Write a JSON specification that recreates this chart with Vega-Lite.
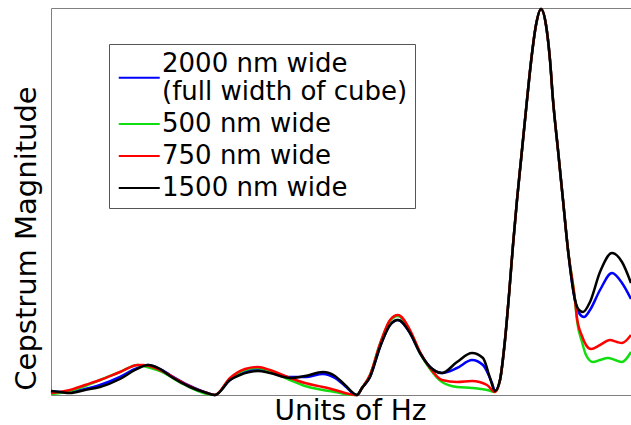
{
  "$schema": "https://vega.github.io/schema/vega-lite/v6.json",
  "width": 580,
  "height": 387,
  "autosize": {"type": "none"},
  "padding": {"left": 51, "top": 8, "right": 0, "bottom": 30},
  "background": "white",
  "config": {
    "font": "DejaVu Sans",
    "view": {"stroke": "#808080", "strokeWidth": 1}
  },
  "data": {
    "values": [
      {"w": "2000 nm wide (full width of cube)", "q": 0, "m": 4},
      {"w": "2000 nm wide (full width of cube)", "q": 9, "m": 3},
      {"w": "2000 nm wide (full width of cube)", "q": 19, "m": 3},
      {"w": "2000 nm wide (full width of cube)", "q": 34, "m": 6},
      {"w": "2000 nm wide (full width of cube)", "q": 49, "m": 10},
      {"w": "2000 nm wide (full width of cube)", "q": 69, "m": 18},
      {"w": "2000 nm wide (full width of cube)", "q": 84, "m": 26},
      {"w": "2000 nm wide (full width of cube)", "q": 97, "m": 30},
      {"w": "2000 nm wide (full width of cube)", "q": 109, "m": 26},
      {"w": "2000 nm wide (full width of cube)", "q": 119, "m": 20},
      {"w": "2000 nm wide (full width of cube)", "q": 139, "m": 9},
      {"w": "2000 nm wide (full width of cube)", "q": 156, "m": 2},
      {"w": "2000 nm wide (full width of cube)", "q": 164, "m": 0},
      {"w": "2000 nm wide (full width of cube)", "q": 179, "m": 15},
      {"w": "2000 nm wide (full width of cube)", "q": 189, "m": 21},
      {"w": "2000 nm wide (full width of cube)", "q": 207, "m": 26},
      {"w": "2000 nm wide (full width of cube)", "q": 219, "m": 24},
      {"w": "2000 nm wide (full width of cube)", "q": 239, "m": 18},
      {"w": "2000 nm wide (full width of cube)", "q": 254, "m": 18},
      {"w": "2000 nm wide (full width of cube)", "q": 272, "m": 21},
      {"w": "2000 nm wide (full width of cube)", "q": 284, "m": 17},
      {"w": "2000 nm wide (full width of cube)", "q": 294, "m": 9},
      {"w": "2000 nm wide (full width of cube)", "q": 306, "m": 0},
      {"w": "2000 nm wide (full width of cube)", "q": 311, "m": 7},
      {"w": "2000 nm wide (full width of cube)", "q": 319, "m": 18},
      {"w": "2000 nm wide (full width of cube)", "q": 329, "m": 48},
      {"w": "2000 nm wide (full width of cube)", "q": 339, "m": 70},
      {"w": "2000 nm wide (full width of cube)", "q": 347, "m": 75},
      {"w": "2000 nm wide (full width of cube)", "q": 359, "m": 62},
      {"w": "2000 nm wide (full width of cube)", "q": 369, "m": 42},
      {"w": "2000 nm wide (full width of cube)", "q": 379, "m": 28},
      {"w": "2000 nm wide (full width of cube)", "q": 391, "m": 22},
      {"w": "2000 nm wide (full width of cube)", "q": 406, "m": 27},
      {"w": "2000 nm wide (full width of cube)", "q": 421, "m": 35},
      {"w": "2000 nm wide (full width of cube)", "q": 432, "m": 30},
      {"w": "2000 nm wide (full width of cube)", "q": 441, "m": 12},
      {"w": "2000 nm wide (full width of cube)", "q": 444, "m": 4},
      {"w": "2000 nm wide (full width of cube)", "q": 449, "m": 15},
      {"w": "2000 nm wide (full width of cube)", "q": 454, "m": 55},
      {"w": "2000 nm wide (full width of cube)", "q": 458, "m": 100},
      {"w": "2000 nm wide (full width of cube)", "q": 462, "m": 150},
      {"w": "2000 nm wide (full width of cube)", "q": 466, "m": 195},
      {"w": "2000 nm wide (full width of cube)", "q": 470, "m": 235},
      {"w": "2000 nm wide (full width of cube)", "q": 476, "m": 295},
      {"w": "2000 nm wide (full width of cube)", "q": 480, "m": 333},
      {"w": "2000 nm wide (full width of cube)", "q": 485, "m": 370},
      {"w": "2000 nm wide (full width of cube)", "q": 490, "m": 386},
      {"w": "2000 nm wide (full width of cube)", "q": 495, "m": 370},
      {"w": "2000 nm wide (full width of cube)", "q": 499, "m": 335},
      {"w": "2000 nm wide (full width of cube)", "q": 502, "m": 295},
      {"w": "2000 nm wide (full width of cube)", "q": 507, "m": 245},
      {"w": "2000 nm wide (full width of cube)", "q": 512, "m": 195},
      {"w": "2000 nm wide (full width of cube)", "q": 517, "m": 145},
      {"w": "2000 nm wide (full width of cube)", "q": 524, "m": 95},
      {"w": "2000 nm wide (full width of cube)", "q": 528, "m": 82},
      {"w": "2000 nm wide (full width of cube)", "q": 533, "m": 78},
      {"w": "2000 nm wide (full width of cube)", "q": 539, "m": 85},
      {"w": "2000 nm wide (full width of cube)", "q": 549, "m": 105},
      {"w": "2000 nm wide (full width of cube)", "q": 561, "m": 122},
      {"w": "2000 nm wide (full width of cube)", "q": 571, "m": 112},
      {"w": "2000 nm wide (full width of cube)", "q": 580, "m": 96},

      {"w": "500 nm wide", "q": 0, "m": 1},
      {"w": "500 nm wide", "q": 9, "m": 2},
      {"w": "500 nm wide", "q": 19, "m": 4},
      {"w": "500 nm wide", "q": 34, "m": 9},
      {"w": "500 nm wide", "q": 49, "m": 15},
      {"w": "500 nm wide", "q": 69, "m": 23},
      {"w": "500 nm wide", "q": 87, "m": 30},
      {"w": "500 nm wide", "q": 92, "m": 29},
      {"w": "500 nm wide", "q": 109, "m": 24},
      {"w": "500 nm wide", "q": 132, "m": 11},
      {"w": "500 nm wide", "q": 156, "m": 1},
      {"w": "500 nm wide", "q": 164, "m": 0},
      {"w": "500 nm wide", "q": 179, "m": 16},
      {"w": "500 nm wide", "q": 194, "m": 25},
      {"w": "500 nm wide", "q": 207, "m": 27},
      {"w": "500 nm wide", "q": 219, "m": 24},
      {"w": "500 nm wide", "q": 239, "m": 15},
      {"w": "500 nm wide", "q": 254, "m": 9},
      {"w": "500 nm wide", "q": 272, "m": 5},
      {"w": "500 nm wide", "q": 284, "m": 3},
      {"w": "500 nm wide", "q": 294, "m": 1},
      {"w": "500 nm wide", "q": 306, "m": 0},
      {"w": "500 nm wide", "q": 311, "m": 7},
      {"w": "500 nm wide", "q": 319, "m": 20},
      {"w": "500 nm wide", "q": 329, "m": 51},
      {"w": "500 nm wide", "q": 339, "m": 74},
      {"w": "500 nm wide", "q": 347, "m": 79},
      {"w": "500 nm wide", "q": 359, "m": 64},
      {"w": "500 nm wide", "q": 369, "m": 42},
      {"w": "500 nm wide", "q": 379, "m": 26},
      {"w": "500 nm wide", "q": 391, "m": 13},
      {"w": "500 nm wide", "q": 406, "m": 8},
      {"w": "500 nm wide", "q": 421, "m": 7},
      {"w": "500 nm wide", "q": 436, "m": 5},
      {"w": "500 nm wide", "q": 444, "m": 3},
      {"w": "500 nm wide", "q": 449, "m": 15},
      {"w": "500 nm wide", "q": 454, "m": 55},
      {"w": "500 nm wide", "q": 458, "m": 100},
      {"w": "500 nm wide", "q": 462, "m": 150},
      {"w": "500 nm wide", "q": 466, "m": 195},
      {"w": "500 nm wide", "q": 470, "m": 235},
      {"w": "500 nm wide", "q": 476, "m": 295},
      {"w": "500 nm wide", "q": 480, "m": 333},
      {"w": "500 nm wide", "q": 485, "m": 370},
      {"w": "500 nm wide", "q": 490, "m": 386},
      {"w": "500 nm wide", "q": 495, "m": 370},
      {"w": "500 nm wide", "q": 499, "m": 335},
      {"w": "500 nm wide", "q": 502, "m": 295},
      {"w": "500 nm wide", "q": 507, "m": 245},
      {"w": "500 nm wide", "q": 512, "m": 195},
      {"w": "500 nm wide", "q": 517, "m": 145},
      {"w": "500 nm wide", "q": 524, "m": 95},
      {"w": "500 nm wide", "q": 526, "m": 75},
      {"w": "500 nm wide", "q": 531, "m": 53},
      {"w": "500 nm wide", "q": 535, "m": 40},
      {"w": "500 nm wide", "q": 542, "m": 33},
      {"w": "500 nm wide", "q": 549, "m": 35},
      {"w": "500 nm wide", "q": 557, "m": 37},
      {"w": "500 nm wide", "q": 564, "m": 35},
      {"w": "500 nm wide", "q": 571, "m": 33},
      {"w": "500 nm wide", "q": 580, "m": 43},

      {"w": "750 nm wide", "q": 0, "m": 2},
      {"w": "750 nm wide", "q": 9, "m": 3},
      {"w": "750 nm wide", "q": 19, "m": 5},
      {"w": "750 nm wide", "q": 34, "m": 10},
      {"w": "750 nm wide", "q": 49, "m": 15},
      {"w": "750 nm wide", "q": 69, "m": 23},
      {"w": "750 nm wide", "q": 87, "m": 30},
      {"w": "750 nm wide", "q": 92, "m": 30},
      {"w": "750 nm wide", "q": 109, "m": 25},
      {"w": "750 nm wide", "q": 132, "m": 12},
      {"w": "750 nm wide", "q": 156, "m": 2},
      {"w": "750 nm wide", "q": 164, "m": 0},
      {"w": "750 nm wide", "q": 179, "m": 17},
      {"w": "750 nm wide", "q": 194, "m": 26},
      {"w": "750 nm wide", "q": 207, "m": 28},
      {"w": "750 nm wide", "q": 219, "m": 25},
      {"w": "750 nm wide", "q": 239, "m": 17},
      {"w": "750 nm wide", "q": 254, "m": 12},
      {"w": "750 nm wide", "q": 272, "m": 8},
      {"w": "750 nm wide", "q": 284, "m": 5},
      {"w": "750 nm wide", "q": 294, "m": 2},
      {"w": "750 nm wide", "q": 306, "m": 0},
      {"w": "750 nm wide", "q": 311, "m": 7},
      {"w": "750 nm wide", "q": 319, "m": 20},
      {"w": "750 nm wide", "q": 329, "m": 51},
      {"w": "750 nm wide", "q": 339, "m": 75},
      {"w": "750 nm wide", "q": 347, "m": 80},
      {"w": "750 nm wide", "q": 359, "m": 65},
      {"w": "750 nm wide", "q": 369, "m": 43},
      {"w": "750 nm wide", "q": 379, "m": 27},
      {"w": "750 nm wide", "q": 391, "m": 15},
      {"w": "750 nm wide", "q": 406, "m": 13},
      {"w": "750 nm wide", "q": 421, "m": 14},
      {"w": "750 nm wide", "q": 436, "m": 10},
      {"w": "750 nm wide", "q": 444, "m": 3},
      {"w": "750 nm wide", "q": 449, "m": 15},
      {"w": "750 nm wide", "q": 454, "m": 55},
      {"w": "750 nm wide", "q": 458, "m": 100},
      {"w": "750 nm wide", "q": 462, "m": 150},
      {"w": "750 nm wide", "q": 466, "m": 195},
      {"w": "750 nm wide", "q": 470, "m": 235},
      {"w": "750 nm wide", "q": 476, "m": 295},
      {"w": "750 nm wide", "q": 480, "m": 333},
      {"w": "750 nm wide", "q": 485, "m": 370},
      {"w": "750 nm wide", "q": 490, "m": 386},
      {"w": "750 nm wide", "q": 495, "m": 370},
      {"w": "750 nm wide", "q": 499, "m": 335},
      {"w": "750 nm wide", "q": 502, "m": 295},
      {"w": "750 nm wide", "q": 507, "m": 245},
      {"w": "750 nm wide", "q": 512, "m": 195},
      {"w": "750 nm wide", "q": 517, "m": 145},
      {"w": "750 nm wide", "q": 524, "m": 95},
      {"w": "750 nm wide", "q": 526, "m": 77},
      {"w": "750 nm wide", "q": 531, "m": 59},
      {"w": "750 nm wide", "q": 535, "m": 50},
      {"w": "750 nm wide", "q": 540, "m": 46},
      {"w": "750 nm wide", "q": 549, "m": 50},
      {"w": "750 nm wide", "q": 559, "m": 55},
      {"w": "750 nm wide", "q": 566, "m": 53},
      {"w": "750 nm wide", "q": 571, "m": 52},
      {"w": "750 nm wide", "q": 580, "m": 60},

      {"w": "1500 nm wide", "q": 0, "m": 4},
      {"w": "1500 nm wide", "q": 9, "m": 3},
      {"w": "1500 nm wide", "q": 19, "m": 2},
      {"w": "1500 nm wide", "q": 34, "m": 5},
      {"w": "1500 nm wide", "q": 49, "m": 8},
      {"w": "1500 nm wide", "q": 69, "m": 16},
      {"w": "1500 nm wide", "q": 84, "m": 25},
      {"w": "1500 nm wide", "q": 97, "m": 30},
      {"w": "1500 nm wide", "q": 109, "m": 26},
      {"w": "1500 nm wide", "q": 119, "m": 19},
      {"w": "1500 nm wide", "q": 139, "m": 8},
      {"w": "1500 nm wide", "q": 156, "m": 2},
      {"w": "1500 nm wide", "q": 164, "m": 0},
      {"w": "1500 nm wide", "q": 179, "m": 15},
      {"w": "1500 nm wide", "q": 189, "m": 20},
      {"w": "1500 nm wide", "q": 207, "m": 24},
      {"w": "1500 nm wide", "q": 219, "m": 22},
      {"w": "1500 nm wide", "q": 239, "m": 17},
      {"w": "1500 nm wide", "q": 254, "m": 19},
      {"w": "1500 nm wide", "q": 272, "m": 23},
      {"w": "1500 nm wide", "q": 284, "m": 19},
      {"w": "1500 nm wide", "q": 294, "m": 10},
      {"w": "1500 nm wide", "q": 306, "m": 0},
      {"w": "1500 nm wide", "q": 311, "m": 7},
      {"w": "1500 nm wide", "q": 319, "m": 18},
      {"w": "1500 nm wide", "q": 329, "m": 48},
      {"w": "1500 nm wide", "q": 339, "m": 70},
      {"w": "1500 nm wide", "q": 347, "m": 75},
      {"w": "1500 nm wide", "q": 359, "m": 62},
      {"w": "1500 nm wide", "q": 369, "m": 42},
      {"w": "1500 nm wide", "q": 379, "m": 28},
      {"w": "1500 nm wide", "q": 391, "m": 22},
      {"w": "1500 nm wide", "q": 406, "m": 33},
      {"w": "1500 nm wide", "q": 421, "m": 42},
      {"w": "1500 nm wide", "q": 432, "m": 37},
      {"w": "1500 nm wide", "q": 439, "m": 17},
      {"w": "1500 nm wide", "q": 444, "m": 4},
      {"w": "1500 nm wide", "q": 449, "m": 15},
      {"w": "1500 nm wide", "q": 454, "m": 55},
      {"w": "1500 nm wide", "q": 458, "m": 100},
      {"w": "1500 nm wide", "q": 462, "m": 150},
      {"w": "1500 nm wide", "q": 466, "m": 195},
      {"w": "1500 nm wide", "q": 470, "m": 235},
      {"w": "1500 nm wide", "q": 476, "m": 295},
      {"w": "1500 nm wide", "q": 480, "m": 333},
      {"w": "1500 nm wide", "q": 485, "m": 370},
      {"w": "1500 nm wide", "q": 490, "m": 386},
      {"w": "1500 nm wide", "q": 495, "m": 370},
      {"w": "1500 nm wide", "q": 499, "m": 335},
      {"w": "1500 nm wide", "q": 502, "m": 295},
      {"w": "1500 nm wide", "q": 507, "m": 245},
      {"w": "1500 nm wide", "q": 512, "m": 195},
      {"w": "1500 nm wide", "q": 517, "m": 145},
      {"w": "1500 nm wide", "q": 524, "m": 95},
      {"w": "1500 nm wide", "q": 528, "m": 85},
      {"w": "1500 nm wide", "q": 532, "m": 83},
      {"w": "1500 nm wide", "q": 539, "m": 93},
      {"w": "1500 nm wide", "q": 549, "m": 123},
      {"w": "1500 nm wide", "q": 561, "m": 142},
      {"w": "1500 nm wide", "q": 571, "m": 133},
      {"w": "1500 nm wide", "q": 580, "m": 112}
    ]
  },
  "encoding": {
    "x": {
      "field": "q",
      "type": "quantitative",
      "scale": {"domain": [0, 580], "nice": false, "zero": false},
      "axis": {
        "title": "Units of Hz",
        "labels": false,
        "ticks": false,
        "grid": false,
        "domain": false,
        "titleFont": "DejaVu Sans",
        "titleFontSize": 28,
        "titleFontWeight": "normal",
        "titleColor": "#000000",
        "titleAlign": "center",
        "titleBaseline": "alphabetic",
        "titleX": 299,
        "titleY": 24
      }
    },
    "y": {
      "field": "m",
      "type": "quantitative",
      "scale": {"domain": [0, 387], "nice": false},
      "axis": {
        "title": "Cepstrum Magnitude",
        "labels": false,
        "ticks": false,
        "grid": false,
        "domain": false,
        "titleFont": "DejaVu Sans",
        "titleFontSize": 29,
        "titleFontWeight": "normal",
        "titleColor": "#000000",
        "titleAngle": -90,
        "titleAlign": "center",
        "titleBaseline": "alphabetic",
        "titleX": -16,
        "titleY": 230
      }
    },
    "color": {
      "field": "w",
      "type": "nominal",
      "scale": {
        "domain": ["2000 nm wide (full width of cube)", "500 nm wide", "750 nm wide", "1500 nm wide"],
        "range": ["#0000ff", "#11dd11", "#ff0000", "#000000"]
      },
      "legend": {
        "title": null,
        "orient": "none",
        "legendX": 58,
        "legendY": 36,
        "symbolType": "M-1,0H3",
        "symbolSize": 420,
        "symbolStrokeWidth": 2,
        "labelFont": "DejaVu Sans",
        "labelFontSize": 26,
        "labelColor": "#000000",
        "labelOffset": 20,
        "labelLimit": 400,
        "rowPadding": 6,
        "padding": 7,
        "strokeColor": "#555555",
        "fillColor": "#ffffff",
        "labelExpr": "datum.label == '2000 nm wide (full width of cube)' ? ['2000 nm wide', '(full width of cube)'] : datum.label",
        "encode": {
          "symbols": {
            "update": {
              "shape": {"signal": "datum.value == '2000 nm wide (full width of cube)' ? 'M-1,1.35H3' : 'M-1,0H3'"}
            }
          }
        }
      }
    }
  },
  "layer": [
    {"transform": [{"filter": "datum.w == '2000 nm wide (full width of cube)'"}], "mark": {"type": "line", "interpolate": "monotone", "strokeWidth": 2.5}},
    {"transform": [{"filter": "datum.w == '500 nm wide'"}], "mark": {"type": "line", "interpolate": "monotone", "strokeWidth": 2.5}},
    {"transform": [{"filter": "datum.w == '750 nm wide'"}], "mark": {"type": "line", "interpolate": "monotone", "strokeWidth": 2.5}},
    {"transform": [{"filter": "datum.w == '1500 nm wide'"}], "mark": {"type": "line", "interpolate": "monotone", "strokeWidth": 2.5}}
  ]
}
